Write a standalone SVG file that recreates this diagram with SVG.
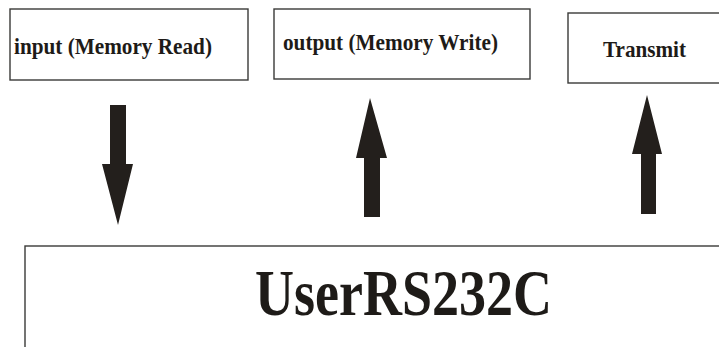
<svg xmlns="http://www.w3.org/2000/svg" width="719" height="347" viewBox="0 0 719 347">
<style>
.box{fill:#fff;stroke:#3a3a38;stroke-width:1.4}
.lbl{font-family:"Liberation Serif","Times New Roman",serif;font-weight:bold;font-size:22.5px;fill:#1e1b18}
.big{font-family:"Liberation Serif","Times New Roman",serif;font-weight:bold;font-size:66px;fill:#1e1b18}
.arr{fill:#231f1c}
</style>
<rect width="719" height="347" fill="#fff"/>
<g id="input">
<rect class="box" x="10" y="9" width="238" height="71"/>
<text class="lbl" x="14" y="54" textLength="198" lengthAdjust="spacingAndGlyphs">input (Memory Read)</text>
</g>
<g id="output">
<rect class="box" x="274" y="9" width="256" height="70"/>
<text class="lbl" x="283" y="50" textLength="215" lengthAdjust="spacingAndGlyphs">output (Memory Write)</text>
</g>
<g id="transmit">
<rect class="box" x="568" y="13" width="160" height="70"/>
<text class="lbl" x="603" y="57" textLength="83" lengthAdjust="spacingAndGlyphs">Transmit</text>
</g>
<g id="userrs232c">
<rect class="box" x="25" y="246" width="710" height="120"/>
<text class="big" x="255" y="315" textLength="297" lengthAdjust="spacingAndGlyphs">UserRS232C</text>
</g>
<g id="connectors">
<polygon class="arr" points="110,105 126,105 126,164 133,164 118,225 102,164 110,164"/>
<polygon class="arr" points="370,98 387,158 380,158 380,217 364,217 364,158 356,158"/>
<polygon class="arr" points="647,95 662,154 656,154 656,214 641,214 641,154 632,154"/>
</g>
</svg>
